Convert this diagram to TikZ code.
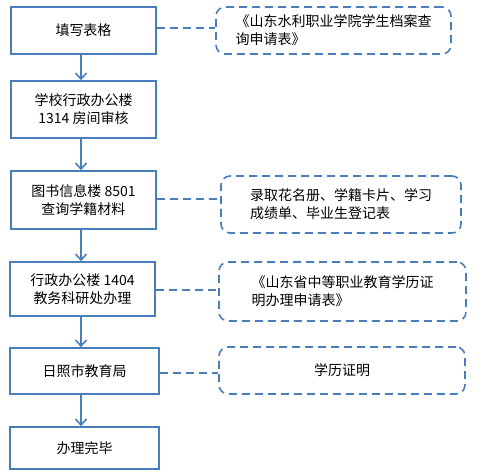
\documentclass[tikz,border=0pt]{standalone}
\usepackage{fontspec}
\setmainfont{Noto Sans CJK SC}
\usetikzlibrary{arrows.meta}
\definecolor{lineblue}{RGB}{74,126,187}
\tikzset{
  stepbox/.style={draw=lineblue, line width=1.6pt, rectangle, align=center, inner sep=0pt,
    font=\fontsize{14}{18}\selectfont},
  notebox/.style={draw=lineblue, line width=1.6pt, rectangle, rounded corners=9pt, align=left,
    inner sep=0pt, dash pattern=on 8pt off 5pt, font=\fontsize{14}{18}\selectfont},
  flowarrow/.style={draw=lineblue, line width=1.6pt, -{Straight Barb[length=6pt,width=11pt,line width=1.6pt]}},
  dashlink/.style={draw=lineblue, line width=1.6pt, dash pattern=on 8pt off 5pt}
}
\begin{document}
\begin{tikzpicture}[x=1pt,y=-1pt]
\useasboundingbox (0,0) rectangle (477,476);
\coordinate (ax) at (81,0);
\coordinate (y1) at (0,28);
\coordinate (y3) at (0,199);
\coordinate (y4) at (0,290);
\coordinate (y5) at (0,373);
\node[stepbox, minimum width=145pt, minimum height=47pt] (b1) at (83.5,30.5) {填写表格};
\node[stepbox, minimum width=145pt, minimum height=57pt] (b2) at (83.5,109.5) {学校行政办公楼\\1314 房间审核};
\node[stepbox, minimum width=145pt, minimum height=58pt] (b3) at (83.5,200) {图书信息楼 8501\\查询学籍材料};
\node[stepbox, minimum width=145pt, minimum height=54pt] (b4) at (82.5,289) {行政办公楼 1404\\教务科研处办理};
\node[stepbox, minimum width=149pt, minimum height=46pt] (b5) at (84.5,371) {日照市教育局};
\node[stepbox, minimum width=149pt, minimum height=42pt] (b6) at (84.5,448) {办理完毕};

\node[notebox, minimum width=235pt, minimum height=47pt] (r1) at (333.5,30.5) {《山东水利职业学院学生档案查\\询申请表》};
\node[notebox, minimum width=240pt, minimum height=57pt] (r2) at (341,204.5) {录取花名册、学籍卡片、学习\\成绩单、毕业生登记表};
\node[notebox, minimum width=247pt, minimum height=59pt] (r3) at (342.5,291.5) {《山东省中等职业教育学历证\\明办理申请表》};
\node[notebox, align=center, minimum width=246pt, minimum height=47pt] (r4) at (342,370.5) {学历证明};

\draw[flowarrow] (b1.south -| ax) -- (b2.north -| ax);
\draw[flowarrow] (b2.south -| ax) -- (b3.north -| ax);
\draw[flowarrow] (b3.south -| ax) -- (b4.north -| ax);
\draw[flowarrow] (b4.south -| ax) -- (b5.north -| ax);
\draw[flowarrow] (b5.south -| ax) -- (b6.north -| ax);

\draw[dashlink] (b1.east |- y1) -- (r1.west |- y1);
\draw[dashlink] (b3.east |- y3) -- (r2.west |- y3);
\draw[dashlink] (b4.east |- y4) -- (r3.west |- y4);
\draw[dashlink] (b5.east |- y5) -- (r4.west |- y5);
\end{tikzpicture}
\end{document}
